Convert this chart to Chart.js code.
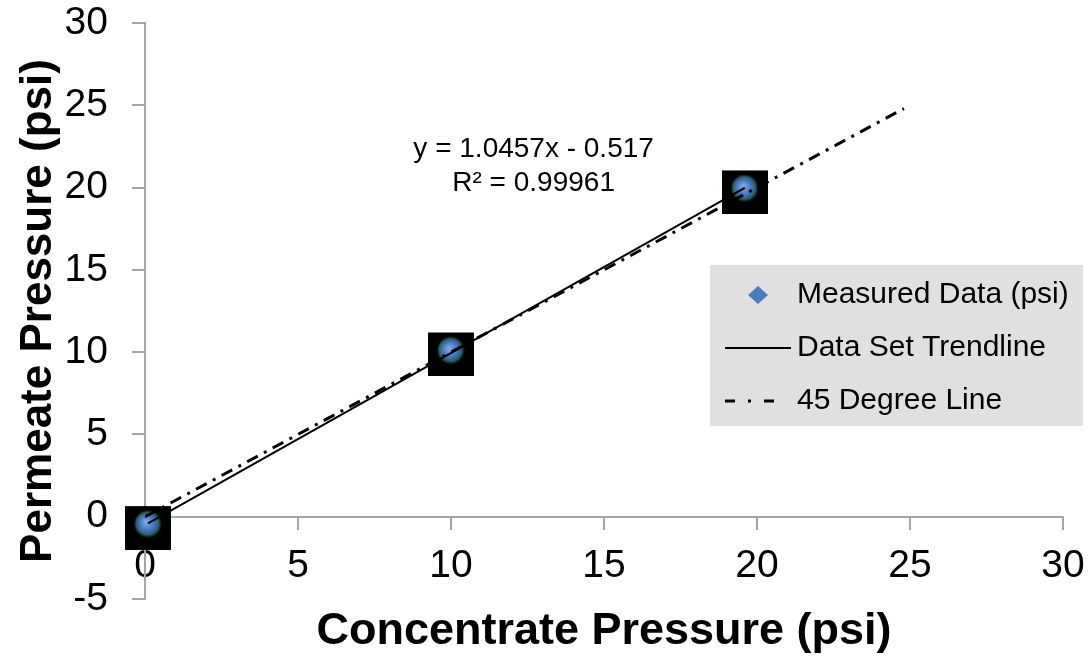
<!DOCTYPE html>
<html>
<head>
<meta charset="utf-8">
<script src="https://cdn.jsdelivr.net/npm/chart.js@4/dist/chart.umd.min.js"></script>
<style>
  html, body { margin: 0; padding: 0; background: #fff; }
</style>
</head>
<body>
<canvas id="chart" width="1091" height="659"></canvas>
<script>
// measured permeate vs concentrate pressure
const measuredX = [0.1, 10.0, 19.6];
const measuredY = [-0.45, 10.1, 19.95];

// linear trendline (end points)
const trendX = [0.1, 19.6];
const trendY = [-0.41, 19.98];

// 45 degree reference line
const refX = [0, 24.8];
const refY = [0, 24.8];

const xTickValues = [0, 5, 10, 15, 20, 25, 30];
const yTickValues = [-5, 0, 5, 10, 15, 20, 25, 30];

const seriesLabels = ['Measured Data (psi)', 'Data Set Trendline', '45 Degree Line'];
const trendEquation = ['y = 1.0457x - 0.517', 'R\u00b2 = 0.99961'];

const FONT = "'Liberation Sans', Arial, Helvetica, sans-serif";
const AXIS_GRAY = '#a5a5a5';

const toPoints = (xs, ys) => xs.map((x, i) => ({ x: x, y: ys[i] }));

// black square picture marker with a bluish glow, like the original
function makeMarker() {
    const c = document.createElement('canvas');
    c.width = 46;
    c.height = 52;
    const g = c.getContext('2d');
    g.fillStyle = '#000';
    g.fillRect(0, 8, 46, 44);
    const cx = 23, cy = 26;
    const grad = g.createRadialGradient(cx - 2, cy - 2, 1, cx, cy, 15);
    grad.addColorStop(0, '#7fa6dc');
    grad.addColorStop(0.45, '#4477c8');
    grad.addColorStop(0.75, '#2b5d5a');
    grad.addColorStop(1, 'rgba(0,0,0,0)');
    g.fillStyle = grad;
    g.beginPath();
    g.arc(cx, cy, 15, 0, Math.PI * 2);
    g.fill();
    return c;
}

// trendline equation, placed in data coordinates
const equationLabel = {
    id: 'equationLabel',
    afterDraw(chart, args, opts) {
        const { ctx, scales } = chart;
        const x = scales.x.getPixelForValue(opts.at.x);
        const y = scales.y.getPixelForValue(opts.at.y);
        ctx.save();
        ctx.font = '28px ' + FONT;
        ctx.fillStyle = '#000';
        ctx.textAlign = 'center';
        ctx.textBaseline = 'middle';
        opts.lines.forEach((line, i) => ctx.fillText(line, x, y + i * 34));
        ctx.restore();
    }
};

// Excel style legend box
const boxLegend = {
    id: 'boxLegend',
    afterDraw(chart, args, opts) {
        const { ctx } = chart;
        const ds = chart.data.datasets;
        ctx.save();
        ctx.fillStyle = '#e0e0e0';
        ctx.fillRect(opts.left, opts.top, opts.width, opts.height);

        ctx.font = '30px ' + FONT;
        ctx.textBaseline = 'middle';
        ctx.textAlign = 'left';

        ds.forEach((d, i) => {
            const y = opts.top + opts.firstRow + i * opts.rowGap;
            if (i === 0) {
                ctx.fillStyle = '#4a7ebb';
                ctx.beginPath();
                ctx.moveTo(758, y - 9);
                ctx.lineTo(768, y);
                ctx.lineTo(758, y + 9);
                ctx.lineTo(748, y);
                ctx.closePath();
                ctx.fill();
            } else {
                ctx.strokeStyle = d.borderColor;
                ctx.lineWidth = d.borderWidth;
                ctx.setLineDash(i === 2 ? [10, 13, 3, 13] : []);
                ctx.beginPath();
                ctx.moveTo(725, y);
                ctx.lineTo(i === 2 ? 776 : 791, y);
                ctx.stroke();
                ctx.setLineDash([]);
            }
            ctx.fillStyle = '#000';
            ctx.fillText(d.label, opts.textX, y);
        });
        ctx.restore();
    }
};

const ctx = document.getElementById('chart').getContext('2d');

new Chart(ctx, {
    type: 'scatter',
    data: {
        datasets: [
            {
                label: seriesLabels[0],
                data: toPoints(measuredX, measuredY),
                pointStyle: makeMarker(),
                pointRadius: 22,
                showLine: false,
                clip: false,
                order: 3
            },
            {
                label: seriesLabels[1],
                data: toPoints(trendX, trendY),
                showLine: true,
                borderColor: '#000',
                borderWidth: 2,
                pointRadius: 0,
                order: 2
            },
            {
                label: seriesLabels[2],
                data: toPoints(refX, refY),
                showLine: true,
                borderColor: '#000',
                borderWidth: 3,
                borderDash: [12, 7, 3, 7],
                pointRadius: 0,
                order: 1
            }
        ]
    },
    options: {
        responsive: false,
        animation: false,
        layout: { padding: { top: 21, right: 28, bottom: 60, left: 0 } },
        plugins: {
            legend: { display: false },
            tooltip: { enabled: false },
            equationLabel: { lines: trendEquation, at: { x: 12.7, y: 22.3 } },
            boxLegend: { left: 710, top: 265, width: 373, height: 161, firstRow: 30, rowGap: 53, textX: 797 }
        },
        scales: {
            x: {
                type: 'linear',
                position: { y: 0 },
                min: 0,
                max: 30,
                afterBuildTicks: s => { s.ticks = xTickValues.map(v => ({ value: v })); },
                afterFit: s => { s.height = 60; s.paddingLeft = 0; s.paddingRight = 0; },
                border: { color: AXIS_GRAY, width: 2 },
                grid: { drawOnChartArea: false, drawTicks: true, tickLength: 12, color: AXIS_GRAY, lineWidth: 2 },
                ticks: { color: '#000', padding: 18, font: { family: FONT, size: 39, lineHeight: 1 } },
                title: {
                    display: true,
                    text: 'Concentrate Pressure (psi)',
                    color: '#000',
                    font: { family: FONT, size: 45, weight: 'bold', lineHeight: 1.2 },
                    padding: { top: 0, bottom: -82 }
                }
            },
            y: {
                type: 'linear',
                position: 'left',
                min: -5,
                max: 30,
                afterBuildTicks: s => { s.ticks = yTickValues.map(v => ({ value: v })); },
                afterFit: s => { s.width = 145; s.paddingTop = 0; s.paddingBottom = 0; },
                border: { color: AXIS_GRAY, width: 2 },
                grid: { drawOnChartArea: false, drawTicks: true, tickLength: 13, color: AXIS_GRAY, lineWidth: 2 },
                ticks: { color: '#000', padding: 24, font: { family: FONT, size: 39, lineHeight: 1 } },
                title: {
                    display: true,
                    text: 'Permeate Pressure (psi)',
                    color: '#000',
                    font: { family: FONT, size: 44, weight: 'bold', lineHeight: 1.2 },
                    padding: { top: 12, bottom: 0 }
                }
            }
        }
    },
    plugins: [equationLabel, boxLegend]
});
</script>
</body>
</html>
